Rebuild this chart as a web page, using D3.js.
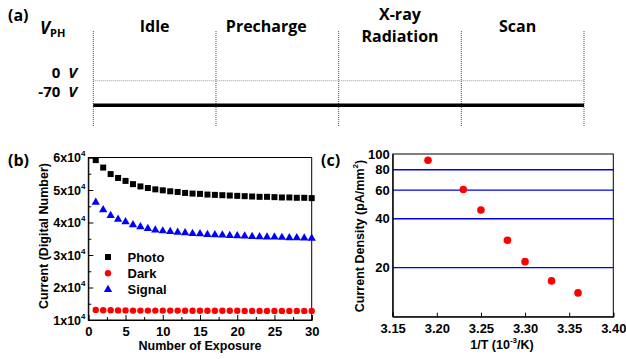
<!DOCTYPE html>
<html><head><meta charset="utf-8">
<script src="https://cdn.jsdelivr.net/npm/d3@7"></script>
<style>body{margin:0;background:#fff}svg{display:block}</style>
</head><body>
<svg id="c" width="626" height="359"></svg>
<script>
// ---------- data ----------
const phases = ["Idle", "Precharge", "X-ray|Radiation", "Scan"];
const phaseBounds = [0, 1, 2, 3, 4];
const voltageLevels = [0, -70];

const exposures = [1,2,3,4,5,6,7,8,9,10,11,12,13,14,15,16,17,18,19,20,21,22,23,24,25,26,27,28,29,30];
const photo  = [59200,56900,54900,53700,52800,51800,51100,50600,50200,49900,49600,49400,49100,48900,48800,48600,48500,48400,48300,48200,48100,48000,47900,47900,47800,47700,47700,47600,47600,47500];
const dark   = [13100,13000,13000,12950,12950,12900,12900,12900,12900,12900,12900,12900,12850,12850,12850,12850,12850,12850,12850,12850,12800,12800,12800,12800,12800,12800,12800,12800,12800,12800];
const signal = [46200,43900,42100,41000,40200,39300,38700,38100,37700,37400,37200,37000,36800,36600,36500,36300,36200,36100,36000,35900,35800,35700,35600,35500,35500,35400,35300,35300,35200,35100];
const bYTicks = [1,2,3,4,5,6];          // x10^4
const bXTicks = [0,5,10,15,20,25,30];

const invT = [3.19, 3.23, 3.25, 3.28, 3.30, 3.33, 3.36];
const jDensity = [91.5, 60.5, 45.3, 29.5, 21.8, 16.6, 14.0];
const cXTicks = [3.15,3.20,3.25,3.30,3.35,3.40];
const cYTicks = [20,40,60,80,100];
const cGrid = [20,40,60,80];

// ---------- drawing ----------
const svg = d3.select("#c");
const AX = "'Liberation Sans', Arial, sans-serif";
const KF = "'Open Sans', 'Noto Sans', sans-serif";

// ===== Panel (a) =====
const ga = svg.append("g");
const xa = d3.scaleLinear().domain([0,4]).range([93.3, 584]);
const ya = d3.scaleOrdinal().domain(voltageLevels).range([80.7, 105.3]);
ga.append("text").attr("x",8).attr("y",21).attr("font-family",KF).attr("font-weight",700).attr("font-size",16).text("(a)");
const vph = ga.append("text").attr("x",40).attr("y",34).attr("font-family",KF).attr("font-weight",700).attr("font-size",17);
vph.append("tspan").attr("font-style","italic").text("V");
vph.append("tspan").attr("font-size",11).attr("dy",3).text("PH");
ga.append("text").attr("x",77).attr("y",77.5).attr("text-anchor","end").attr("font-family",KF).attr("font-weight",700).attr("font-size",15)
  .html("0&#160;&#160;<tspan font-style='italic'>V</tspan>");
ga.append("text").attr("x",77).attr("y",97).attr("text-anchor","end").attr("font-family",KF).attr("font-weight",700).attr("font-size",15)
  .html("-70&#160;&#160;<tspan font-style='italic'>V</tspan>");
phaseBounds.forEach(b=>{
  ga.append("line").attr("x1",xa(b)).attr("x2",xa(b)).attr("y1",31).attr("y2",127)
    .attr("stroke","#555").attr("stroke-width",1).attr("stroke-dasharray","1,1");
});
ga.append("line").attr("x1",xa(0)).attr("x2",xa(4)).attr("y1",ya(0)).attr("y2",ya(0))
  .attr("stroke","#999").attr("stroke-width",1).attr("stroke-dasharray","1,1");
ga.append("line").attr("x1",xa(0)).attr("x2",xa(4)).attr("y1",ya(-70)).attr("y2",ya(-70))
  .attr("stroke","#000").attr("stroke-width",3.5);
phases.forEach((p,i)=>{
  const lines = p.split("|");
  const cx = (xa(i)+xa(i+1))/2 + (i===1?-11:(i===3?-5:0));
  lines.forEach((l,j)=>{
    const y = lines.length===1 ? 32 : (j===0?20:41.5);
    ga.append("text").attr("x",cx).attr("y",y).attr("text-anchor","middle")
      .attr("font-family",KF).attr("font-weight",700).attr("font-size",16).text(l);
  });
});

// ===== Panel (b) =====
const gb = svg.append("g");
const xb = d3.scaleLinear().domain([0,30]).range([88.3, 311.7]);
const yb = d3.scaleLinear().domain([1e4,6e4]).range([320, 157.5]);
gb.append("text").attr("x",8).attr("y",166).attr("font-family",KF).attr("font-weight",700).attr("font-size",16).text("(b)");
// minor ticks
const bxMinor = d3.axisBottom(xb).tickValues([2.5,7.5,12.5,17.5,22.5,27.5]).tickSize(-3).tickFormat("");
gb.append("g").attr("transform","translate(0,320)").call(bxMinor).call(g=>g.select(".domain").remove());
const byMinor = d3.axisLeft(yb).tickValues([15000,25000,35000,45000,55000]).tickSize(-3).tickFormat("");
gb.append("g").attr("transform","translate(88.3,0)").call(byMinor).call(g=>g.select(".domain").remove());
const bx = d3.axisBottom(xb).tickValues(bXTicks).tickSize(-5).tickPadding(7);
gb.append("g").attr("transform","translate(0,320)").call(bx)
  .call(g=>{g.selectAll("text").attr("font-family",AX).attr("font-weight",700).attr("font-size",13).attr("fill","#000");});
const by = d3.axisLeft(yb).tickValues(bYTicks.map(v=>v*1e4)).tickSize(-5).tickPadding(4).tickFormat("");
gb.append("g").attr("transform","translate(88.3,0)").call(by);
bYTicks.forEach(v=>{
  const t = gb.append("text").attr("x",85.5).attr("y",yb(v*1e4)+4.5).attr("text-anchor","end")
    .attr("font-family",AX).attr("font-weight",700).attr("font-size",12.5);
  t.append("tspan").text(v+"x10");
  t.append("tspan").attr("font-size",8).attr("dy",-6).text("4");
});
gb.append("rect").attr("x",xb(0)).attr("y",yb(6e4)).attr("width",xb(30)-xb(0)).attr("height",yb(1e4)-yb(6e4))
  .attr("fill","none").attr("stroke","#000").attr("stroke-width",1);
gb.selectAll(".tick line").attr("stroke","#000");
gb.selectAll(".domain").attr("stroke","#000");
// series
gb.selectAll(".ph").data(exposures).enter().append("rect")
  .attr("x",(d,i)=>xb(d)-3).attr("y",(d,i)=>yb(photo[i])-3).attr("width",6).attr("height",6).attr("fill","#000");
gb.selectAll(".dk").data(exposures).enter().append("circle")
  .attr("cx",d=>xb(d)).attr("cy",(d,i)=>yb(dark[i])).attr("r",3.2).attr("fill","#f00");
const tri = d3.symbol().type(d3.symbolTriangle).size(30);
gb.selectAll(".sg").data(exposures).enter().append("path").attr("d",tri)
  .attr("transform",(d,i)=>`translate(${xb(d)},${yb(signal[i])})`).attr("fill","#00f");
// legend
const leg = [["Photo","sq"],["Dark","ci"],["Signal","tr"]];
leg.forEach((l,i)=>{
  const y = 257 + i*16.3;
  if(l[1]==="sq") gb.append("rect").attr("x",105).attr("y",y-3).attr("width",6).attr("height",6).attr("fill","#000");
  if(l[1]==="ci") gb.append("circle").attr("cx",108).attr("cy",y).attr("r",3.2).attr("fill","#f00");
  if(l[1]==="tr") gb.append("path").attr("d",tri).attr("transform",`translate(108,${y})`).attr("fill","#00f");
  gb.append("text").attr("x",127.5).attr("y",y+4.5).attr("font-family",AX).attr("font-weight",700).attr("font-size",13).text(l[0]);
});
gb.append("text").attr("transform","translate(47.5,236) rotate(-90)").attr("text-anchor","middle")
  .attr("font-family",AX).attr("font-weight",700).attr("font-size",12.5).text("Current (Digital Number)");
gb.append("text").attr("x",200).attr("y",350).attr("text-anchor","middle")
  .attr("font-family",AX).attr("font-weight",700).attr("font-size",12.5).text("Number of Exposure");

// ===== Panel (c) =====
const gc = svg.append("g");
const xc = d3.scaleLinear().domain([3.15,3.40]).range([392.7, 613.3]);
const yc = d3.scaleLog().domain([10,100]).range([316.7, 154]);
gc.append("text").attr("x",321).attr("y",166).attr("font-family",KF).attr("font-weight",700).attr("font-size",16).text("(c)");
cGrid.forEach(v=>{
  gc.append("line").attr("x1",xc(3.15)).attr("x2",xc(3.40)).attr("y1",yc(v)).attr("y2",yc(v))
    .attr("stroke","#0000ee").attr("stroke-width",1.3);
});
const cx = d3.axisBottom(xc).tickValues(cXTicks).tickSize(-4).tickPadding(7).tickFormat(d3.format(".2f"));
gc.append("g").attr("transform","translate(0,316.7)").call(cx)
  .call(g=>{g.selectAll("text").attr("font-family",AX).attr("font-weight",700).attr("font-size",13).attr("fill","#000");});
const cy = d3.axisLeft(yc).tickValues(cYTicks).tickSize(0).tickPadding(3).tickFormat(d3.format("d"));
gc.append("g").attr("transform","translate(392.7,0)").call(cy)
  .call(g=>{g.selectAll("text").attr("font-family",AX).attr("font-weight",700).attr("font-size",13).attr("fill","#000");});
gc.append("rect").attr("x",xc(3.15)).attr("y",yc(100)).attr("width",xc(3.40)-xc(3.15)).attr("height",yc(10)-yc(100))
  .attr("fill","none").attr("stroke","#000").attr("stroke-width",1);
gc.selectAll(".tick line").attr("stroke","#000");
gc.selectAll(".domain").attr("stroke","#000");
gc.selectAll(".pt").data(invT).enter().append("circle")
  .attr("cx",d=>xc(d)).attr("cy",(d,i)=>yc(jDensity[i])).attr("r",3.8).attr("fill","#f00");
const cyl = gc.append("text").attr("transform","translate(363.5,236) rotate(-90)").attr("text-anchor","middle")
  .attr("font-family",AX).attr("font-weight",700).attr("font-size",12.5);
cyl.append("tspan").text("Current Density (pA/mm");
cyl.append("tspan").attr("font-size",8).attr("dy",-6).text("2");
cyl.append("tspan").attr("dy",6).text(")");
const cxl = gc.append("text").attr("x",502).attr("y",349).attr("text-anchor","middle")
  .attr("font-family",AX).attr("font-weight",700).attr("font-size",12.5);
cxl.append("tspan").text("1/T (10");
cxl.append("tspan").attr("font-size",8).attr("dy",-6).text("-3");
cxl.append("tspan").attr("dy",6).text("/K)");
</script>
</body></html>
